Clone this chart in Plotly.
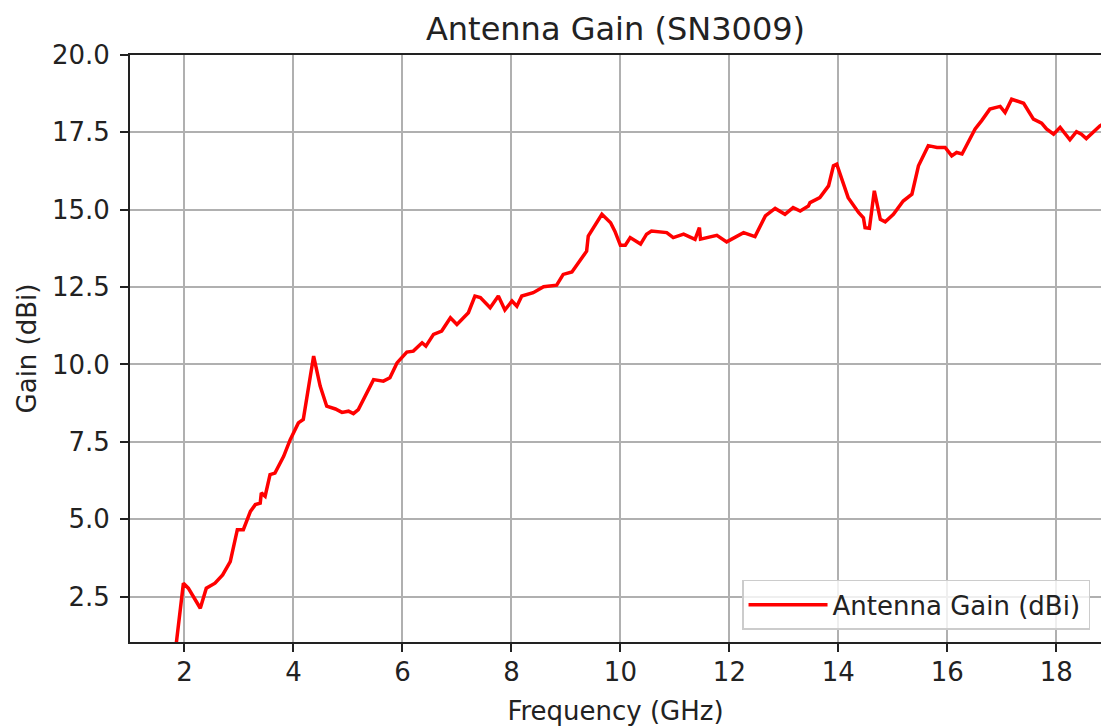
import plotly.graph_objects as go

freq_ghz = [1.83, 1.98, 2.07, 2.29, 2.40, 2.56, 2.70, 2.84, 2.97, 3.08, 3.21, 3.30, 3.39, 3.41,
            3.48, 3.57, 3.66, 3.82, 3.94, 4.09, 4.18, 4.37, 4.49, 4.61, 4.77, 4.89, 5.01, 5.10,
            5.19, 5.47, 5.65, 5.77, 5.90, 6.08, 6.20, 6.36, 6.43, 6.57, 6.72, 6.88, 7.00, 7.21,
            7.33, 7.43, 7.61, 7.76, 7.88, 8.01, 8.10, 8.19, 8.40, 8.59, 8.83, 8.95, 9.11, 9.29,
            9.38, 9.41, 9.66, 9.82, 9.90, 10.00, 10.09, 10.18, 10.37, 10.48, 10.57, 10.85, 10.97,
            11.16, 11.37, 11.45, 11.47, 11.77, 11.95, 12.26, 12.47, 12.66, 12.84, 13.02, 13.17,
            13.30, 13.45, 13.48, 13.66, 13.82, 13.91, 13.97, 14.18, 14.37, 14.46, 14.49, 14.57,
            14.66, 14.77, 14.86, 15.01, 15.19, 15.35, 15.47, 15.65, 15.81, 15.96, 16.08, 16.17,
            16.27, 16.39, 16.51, 16.63, 16.78, 16.97, 17.06, 17.18, 17.40, 17.58, 17.73, 17.82,
            17.95, 18.07, 18.25, 18.37, 18.46, 18.55, 18.80, 18.90]
gain_dbi = [0.70, 2.93, 2.77, 2.12, 2.77, 2.93, 3.20, 3.63, 4.66, 4.66, 5.25, 5.47, 5.52, 5.85,
            5.74, 6.44, 6.49, 7.03, 7.57, 8.11, 8.22, 10.27, 9.30, 8.65, 8.56, 8.45, 8.49, 8.41,
            8.54, 9.51, 9.46, 9.57, 10.05, 10.40, 10.43, 10.70, 10.59, 10.97, 11.08, 11.51, 11.29,
            11.67, 12.21, 12.16, 11.83, 12.21, 11.76, 12.05, 11.88, 12.21, 12.32, 12.51, 12.56,
            12.91, 12.99, 13.45, 13.66, 14.15, 14.85, 14.58, 14.30, 13.85, 13.85, 14.10, 13.89,
            14.21, 14.31, 14.26, 14.10, 14.21, 14.04, 14.42, 14.05, 14.17, 13.96, 14.26, 14.13,
            14.80, 15.04, 14.85, 15.07, 14.96, 15.12, 15.23, 15.39, 15.77, 16.42, 16.47, 15.39,
            14.91, 14.74, 14.42, 14.40, 15.61, 14.69, 14.61, 14.85, 15.28, 15.50, 16.42, 17.07,
            17.01, 17.01, 16.74, 16.85, 16.80, 17.23, 17.61, 17.88, 18.25, 18.34, 18.14, 18.57,
            18.44, 17.93, 17.80, 17.61, 17.44, 17.66, 17.26, 17.52, 17.44, 17.30, 17.71, 17.80]

x_ticks = [2, 4, 6, 8, 10, 12, 14, 16, 18]
y_ticks = [2.5, 5.0, 7.5, 10.0, 12.5, 15.0, 17.5, 20.0]
y_tick_labels = ["2.5", "5.0", "7.5", "10.0", "12.5", "15.0", "17.5", "20.0"]

FONT = "DejaVu Sans"
TXT = "#222222"
FS = 26

fig = go.Figure()
fig.add_trace(go.Scatter(
    x=freq_ghz, y=gain_dbi, mode="lines", name="Antenna Gain (dBi)",
    line=dict(color="#ff0000", width=3.5),
))

fig.update_layout(
    width=1101, height=727,
    margin=dict(l=130, r=0, t=55, b=85, autoexpand=False),
    paper_bgcolor="white", plot_bgcolor="white",
    font=dict(family=FONT, size=FS, color=TXT),
    title=dict(text="Antenna Gain (SN3009)", x=0.5, xref="paper", xanchor="center",
               y=1 - 29 / 727, yref="container", yanchor="middle", automargin=False,
               font=dict(family=FONT, size=32, color=TXT)),
    showlegend=True,
    legend=dict(x=0.9887, y=0.0205, xanchor="right", yanchor="bottom", itemwidth=79,
                orientation="h", entrywidth=251,
                bgcolor="rgba(255,255,255,0.8)", bordercolor="#cccccc", borderwidth=1.5,
                font=dict(family=FONT, size=FS, color=TXT)),
)

fig.update_xaxes(
    range=[1.0, 18.82], tickvals=x_ticks, ticks="outside", ticklen=8, tickwidth=1.5,
    tickcolor="#222222", showline=True, linecolor="#222222", linewidth=2, mirror=True,
    showgrid=True, gridcolor="#b0b0b0", gridwidth=1.8, zeroline=False, automargin=False,
    ticklabelstandoff=-2,
    tickfont=dict(family=FONT, size=FS, color=TXT),
    title=dict(text="Frequency (GHz)", standoff=16, font=dict(family=FONT, size=FS, color=TXT)),
)
fig.update_yaxes(
    range=[1.03, 20.0], tickvals=y_ticks, ticktext=y_tick_labels, ticks="outside", ticklen=8,
    tickwidth=1.5, tickcolor="#222222", showline=True, linecolor="#222222", linewidth=2,
    mirror=False, showgrid=True, gridcolor="#b0b0b0", gridwidth=1.8, zeroline=False,
    automargin=False, ticklabelstandoff=5, tickfont=dict(family=FONT, size=FS, color=TXT),
    title=dict(text="Gain (dBi)", standoff=8, font=dict(family=FONT, size=FS, color=TXT)),
)

fig.write_html(
    "out.html",
    config={"displayModeBar": False},
    post_script="document.body.style.margin='0';document.body.style.overflow='hidden';",
)
